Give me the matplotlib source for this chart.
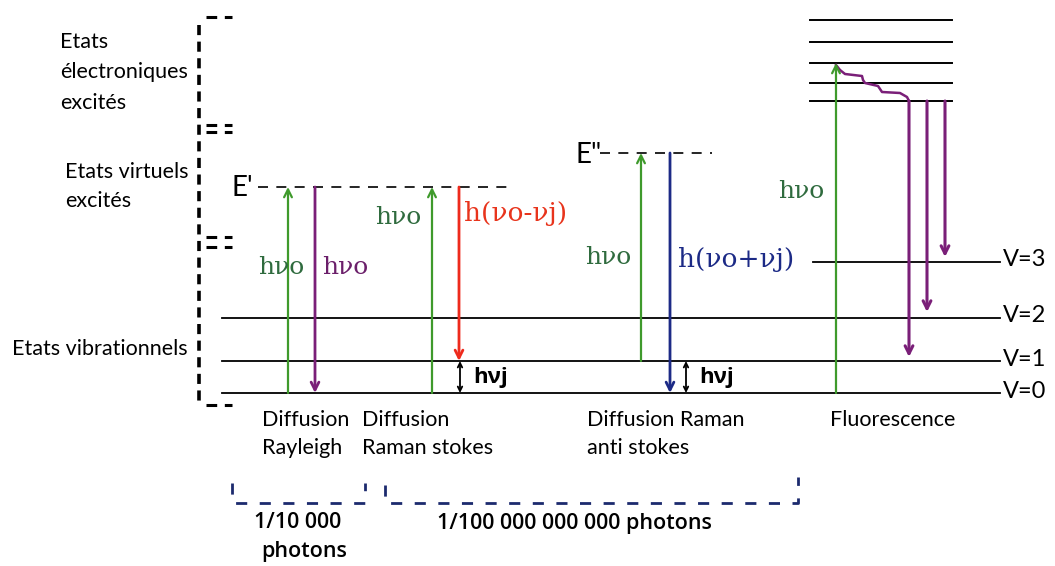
import matplotlib.pyplot as plt
import numpy as np

# energy scale (arbitrary units, V=0 at 0)
vib_labels = ['V=0', 'V=1', 'V=2', 'V=3']
vib_energy = [0, 32, 75, 131]
elec_energy = [292, 310, 330, 351, 373]
virt_labels = ["E'", 'E"']
virt_energy = [206, 240]

# transitions
up_x = [288, 432, 641, 836]
up_from = [0, 0, 32, 0]
up_to = [206, 206, 240, 330]
down_x = [315, 459, 670]
down_from = [206, 206, 240]
down_to = [0, 32, 0]
down_col = ['#7a1f78', '#ee2a1c', '#1c2a86']
fluo_x = [909, 927, 945]
fluo_to = [36, 81, 136]
relax_x = [836, 840, 845, 862, 863, 865, 878, 880, 882, 900, 907, 909]
relax_e = [328, 323, 319, 317, 313, 310, 307, 304, 301, 300, 296, 292]

process_names = [['Diffusion', 'Rayleigh'], ['Diffusion', 'Raman stokes'],
                 ['Diffusion Raman', 'anti stokes'], ['Fluorescence']]
process_x = [262, 362, 587, 830]
ratios = ['1/10 000', 'photons', '1/100 000 000 000 photons']

fig = plt.figure(figsize=(10.55, 5.66), dpi=100)
ax = fig.add_axes([0, 0, 1, 1])
ax.set_xlim(0, 1055)
ax.set_ylim(393 - 566, 393)
ax.axis('off')

sans = ['Lato', 'DejaVu Sans']
serif = ['DejaVu Serif']
bold = ['Open Sans', 'DejaVu Sans']
green = '#3f9a2c'
txtgreen = '#2f6b3e'

# vibrational levels
for lab, e in zip(vib_labels, vib_energy):
    x0 = 813 if lab == 'V=3' else 222
    ax.plot([x0, 1000], [e, e], color='k', lw=1.3)
    ax.text(1003, e + 2, lab, fontsize=17, family=sans, va='center', ha='left')

# electronic levels
for e in elec_energy:
    ax.plot([810, 952], [e, e], color='k', lw=1.4)

# virtual levels
ax.plot([258, 510], [virt_energy[0]] * 2, color='k', lw=1.2, dashes=(6, 5))
ax.plot([600, 712], [virt_energy[1]] * 2, color='k', lw=1.2, dashes=(6, 5))
ax.text(232, virt_energy[0] - 1, virt_labels[0], fontsize=20, family=sans, va='center')
ax.text(575, virt_energy[1] - 2, virt_labels[1], fontsize=20, family=sans, va='center')

# left bracket
ax.plot([199, 199], [368, -12], color='k', lw=2.6, dashes=(2.8, 1.8))
for e in [376, 268, 261, 156, 146, -12]:
    ax.plot([206, 232], [e, e], color='k', lw=2.2, dashes=(3.5, 2.5))

left = [('Etats', 60, 42), ('électroniques', 60, 72), ('excités', 60, 103),
        ('Etats virtuels', 65, 172), ('excités', 65, 201),
        ('Etats vibrationnels', 12, 349)]
for s, x, y in left:
    ax.text(x, 393 - y, s, fontsize=15.5, family=sans, va='center')

# excitation arrows
for x, a, b in zip(up_x, up_from, up_to):
    ax.annotate('', xy=(x, b), xytext=(x, a),
                arrowprops=dict(arrowstyle='->', color=green, lw=1.6,
                                mutation_scale=14, shrinkA=0, shrinkB=0))
# scattered photons
for x, a, b, c in zip(down_x, down_from, down_to, down_col):
    ax.annotate('', xy=(x, b), xytext=(x, a),
                arrowprops=dict(arrowstyle='->', color=c, lw=2.0,
                                mutation_scale=14, shrinkA=0, shrinkB=0))

# fluorescence
ax.plot(relax_x, relax_e, color='#7a1f78', lw=1.8)
for x, b in zip(fluo_x, fluo_to):
    ax.annotate('', xy=(x, b), xytext=(x, elec_energy[0]),
                arrowprops=dict(arrowstyle='->', color='#7a1f78', lw=2.2,
                                mutation_scale=14, shrinkA=0, shrinkB=0))

# h nu_j double arrows
for x in [460, 686]:
    ax.annotate('', xy=(x, vib_energy[0]), xytext=(x, vib_energy[1]),
                arrowprops=dict(arrowstyle='<->', color='k', lw=1.3,
                                mutation_scale=8, shrinkA=0, shrinkB=0))
    ax.text(x + 13, 393 - 378, 'hνj', fontsize=16, family=bold,
            fontweight='bold', va='center')

# photon energy labels
photon = [('hνo', 258, 268, txtgreen), ('hνo', 322, 268, '#6b1f6a'),
          ('hνo', 375, 218, txtgreen), ('h(νo-νj)', 464, 213, '#e8341c'),
          ('hνo', 585, 257, txtgreen), ('h(νo+νj)', 678, 260, '#1c2a86'),
          ('hνo', 778, 192, txtgreen)]
for s, x, y, c in photon:
    fs = 19 if '(' in s else 18
    ax.text(x, 393 - y, s, fontsize=fs, family=serif, color=c, va='center')

# process names
for x, lines in zip(process_x, process_names):
    for i, line in enumerate(lines):
        ax.text(x, 393 - 420 - 28 * i, line, fontsize=15.5, family=sans, va='center')

# probability brackets
bc = '#1c2a6e'
ax.plot([232, 232, 365, 365], [393 - 483, 393 - 503, 393 - 503, 393 - 483],
        color=bc, lw=2, dashes=(4, 4.5))
ax.plot([385, 385, 798, 798], [393 - 485, 393 - 503, 393 - 503, 393 - 477],
        color=bc, lw=2, dashes=(4, 4.5))
ax.text(298, 393 - 523, ratios[0], fontsize=15.5, family=bold,
        fontweight='semibold', ha='center', va='center')
ax.text(304, 393 - 551, ratios[1], fontsize=15.5, family=bold,
        fontweight='semibold', ha='center', va='center')
ax.text(574, 393 - 523, ratios[2], fontsize=15.5, family=bold,
        fontweight='semibold', ha='center', va='center')

fig.savefig('out.png', dpi=100, facecolor='white')
